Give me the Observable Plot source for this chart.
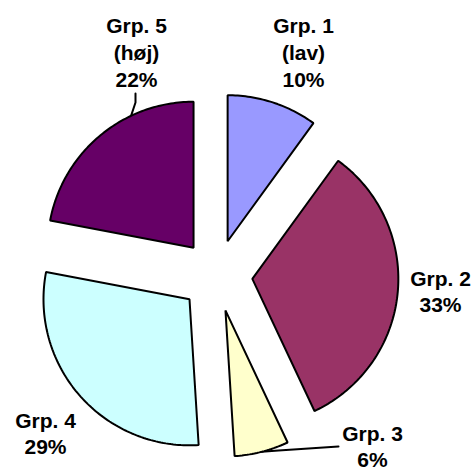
<!DOCTYPE html>
<html>
<head>
<meta charset="utf-8">
<script src="https://cdn.jsdelivr.net/npm/d3@7"></script>
<script src="https://cdn.jsdelivr.net/npm/@observablehq/plot@0.6"></script>
<style>
  html, body { margin: 0; padding: 0; background: #fff; }
  #chart svg { display: block; }
</style>
</head>
<body>
<div id="chart"></div>
<script>
// ---- data ----
const categories = ["Grp. 1", "Grp. 2", "Grp. 3", "Grp. 4", "Grp. 5"];
const qualifiers = ["(lav)", "", "", "", "(høj)"];
const values = [10, 33, 6, 29, 22];
const colors = ["#9999FF", "#993366", "#FFFFCC", "#CCFFFF", "#660066"];

// ---- layout ----
const W = 472, H = 470;
const CX = 216, CY = 275;   // pie center
const R = 146;              // radius
const EXPLODE = 36;         // explosion distance
const labelPos = [[303, 51], [440, 290], [372, 445], [45, 432], [136, 51]];
// leader lines: slice index, angle fraction within slice for anchor on arc, label-side points
const leaders = [
  {i: 4, f: 0.68, pts: [[135, 93], [135, 102]]},
  {i: 2, f: 0.5, pts: [[338, 446], [278, 450]]}
];

const pie = d3.pie().sort(null).startAngle(0).endAngle(2 * Math.PI)(values);

function apex(a) {
  const mid = (a.startAngle + a.endAngle) / 2;
  return [CX + EXPLODE * Math.sin(mid), CY - EXPLODE * Math.cos(mid)];
}
function onArc(a, ang) {
  const [ax, ay] = apex(a);
  return [ax + R * Math.sin(ang), ay - R * Math.cos(ang)];
}

const sliceMarks = pie.map((a, i) => {
  const [ax, ay] = apex(a);
  const pts = [{x: ax, y: ay}];
  const n = Math.max(4, Math.ceil((a.endAngle - a.startAngle) / (Math.PI / 180)));
  for (let k = 0; k <= n; k++) {
    const ang = a.startAngle + (a.endAngle - a.startAngle) * k / n;
    const [x, y] = onArc(a, ang);
    pts.push({x, y});
  }
  return Plot.line(pts, {
    x: "x", y: "y", curve: "linear-closed",
    fill: colors[i], stroke: "black", strokeWidth: 2, strokeLinejoin: "miter"
  });
});

const leaderMarks = leaders.map(L => {
  const a = pie[L.i];
  const end = onArc(a, a.startAngle + (a.endAngle - a.startAngle) * L.f);
  const pts = [...L.pts, end].map(([x, y]) => ({x, y}));
  return Plot.line(pts, {x: "x", y: "y", stroke: "black", strokeWidth: 2});
});

const labels = categories.map((c, i) => ({
  text: c + (qualifiers[i] ? "\n" + qualifiers[i] : "") + "\n" + values[i] + "%",
  x: labelPos[i][0], y: labelPos[i][1]
}));

const chart = Plot.plot({
  width: W, height: H, margin: 0,
  x: {domain: [0, W], axis: null},
  y: {domain: [H, 0], axis: null},
  style: {background: "white"},
  marks: [
    ...leaderMarks,
    ...sliceMarks,
    Plot.text(labels, {
      x: "x", y: "y", text: "text",
      fontSize: 21, fontWeight: "bold", fill: "black",
      fontFamily: "'Liberation Sans', Arial, sans-serif",
      lineHeight: 1.27, textAnchor: "middle", lineAnchor: "middle"
    })
  ]
});
document.getElementById("chart").appendChild(chart);
</script>
</body>
</html>
